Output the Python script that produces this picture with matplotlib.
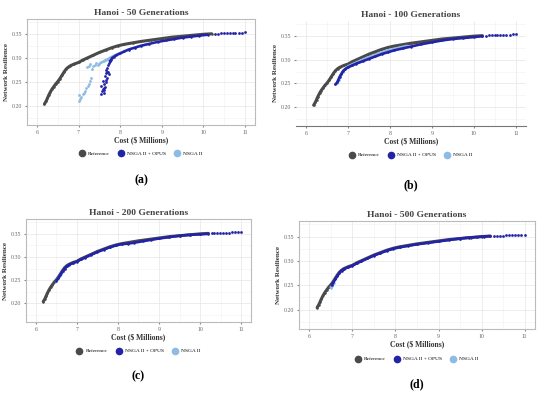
import numpy as np
import matplotlib
matplotlib.use('Agg')
import matplotlib.pyplot as plt
from matplotlib.lines import Line2D

plt.rcParams['font.family'] = ['Liberation Serif', 'DejaVu Serif']

titles = ['Hanoi - 50 Generations', 'Hanoi - 100 Generations',
          'Hanoi - 200 Generations', 'Hanoi - 500 Generations']
panel_tags = ['(a)', '(b)', '(c)', '(d)']
series_names = ['Reference', 'NSGA II + OPUS', 'NSGA II']
xticks = [6, 7, 8, 9, 10, 11]
yticks = [0.20, 0.25, 0.30, 0.35]

# reference front (same in every panel)
ref_cost = [6.18, 6.22, 6.25, 6.28, 6.32, 6.36, 6.40, 6.45, 6.50, 6.55, 6.60, 6.65, 6.70, 6.75,
            6.80, 6.90, 7.00, 7.10, 7.20, 7.35, 7.50, 7.65, 7.80, 7.95, 8.10, 8.30, 8.50,
            8.75, 9.00, 9.25, 9.50, 9.75, 10.00, 10.20]
ref_res = [0.204, 0.210, 0.216, 0.222, 0.229, 0.235, 0.240, 0.246, 0.251, 0.257, 0.264, 0.271,
           0.277, 0.281, 0.284, 0.288, 0.291, 0.296, 0.300, 0.306, 0.312, 0.317, 0.322, 0.326,
           0.329, 0.332, 0.335, 0.338, 0.341, 0.344, 0.346, 0.348, 0.350, 0.351]

# tail of the fronts (sparse points beyond ~10.2)
tail_cost = [10.28, 10.35, 10.42, 10.49, 10.56, 10.63, 10.70, 10.77, 10.85, 10.92, 11.00]
tail_res = [0.3510, 0.3515, 0.3518, 0.3520, 0.3522, 0.3525, 0.3527, 0.3530, 0.3532, 0.3535, 0.3540]

# 50 generations
opus50_cost = [7.55, 7.57, 7.58, 7.60, 7.62, 7.55, 7.60, 7.63, 7.65, 7.66, 7.68, 7.64, 7.67, 7.70,
               7.72, 7.66, 7.69, 7.71, 7.74, 7.58, 7.62, 7.68, 7.75, 7.78, 7.80, 7.85, 7.90, 8.00,
               8.10, 8.20, 8.35, 8.50, 8.70, 8.90, 9.10, 9.30, 9.50, 9.70, 9.90, 10.10]
opus50_res = [0.225, 0.231, 0.236, 0.228, 0.233, 0.242, 0.246, 0.240, 0.250, 0.255, 0.258, 0.262,
              0.268, 0.270, 0.266, 0.275, 0.280, 0.285, 0.290, 0.252, 0.238, 0.272, 0.294, 0.296,
              0.300, 0.303, 0.306, 0.310, 0.314, 0.318, 0.322, 0.326, 0.330, 0.334, 0.337, 0.340,
              0.343, 0.345, 0.347, 0.349]
nsga50_cost = [7.00, 7.03, 7.06, 7.02, 7.10, 7.12, 7.15, 7.18, 7.22, 7.25, 7.28, 7.30, 7.24, 7.27,
               7.20, 7.33, 7.35, 7.40, 7.43, 7.46, 7.50, 7.55, 7.60, 7.65, 7.70, 7.78, 7.85, 7.95,
               8.05, 8.20, 8.35, 8.50, 8.70]
nsga50_res = [0.211, 0.215, 0.219, 0.222, 0.224, 0.228, 0.232, 0.237, 0.241, 0.245, 0.252, 0.258,
              0.283, 0.287, 0.281, 0.278, 0.284, 0.286, 0.289, 0.285, 0.288, 0.291, 0.293, 0.296,
              0.298, 0.302, 0.305, 0.309, 0.313, 0.318, 0.322, 0.326, 0.330]

# 100 generations
opus100_cost = [6.70, 6.74, 6.77, 6.80, 6.84, 6.88, 6.93, 7.00, 7.10, 7.20, 7.35, 7.50, 7.65,
                7.80, 7.95, 8.10, 8.30, 8.50, 8.75, 9.00, 9.25, 9.50, 9.75, 10.00, 10.20]
opus100_res = [0.248, 0.252, 0.258, 0.264, 0.270, 0.276, 0.280, 0.284, 0.288, 0.292, 0.297, 0.302,
               0.307, 0.312, 0.316, 0.320, 0.324, 0.328, 0.333, 0.337, 0.341, 0.344, 0.346, 0.348,
               0.350]
nsga100_cost = [6.74, 6.78, 6.82, 6.87, 6.92, 7.00, 7.10, 7.25, 7.40, 7.55, 7.70, 7.85, 8.00,
                8.20, 8.40]
nsga100_res = [0.250, 0.257, 0.266, 0.274, 0.280, 0.286, 0.290, 0.296, 0.302, 0.307, 0.312,
               0.317, 0.321, 0.325, 0.329]

# 200 generations
opus200_cost = [6.50, 6.55, 6.60, 6.65, 6.70, 6.75, 6.80, 6.90, 7.00, 7.10, 7.20, 7.35, 7.50,
                7.65, 7.80, 7.95, 8.10, 8.25, 8.40, 8.60, 8.80, 9.00, 9.25, 9.50, 9.75, 10.00,
                10.20]
opus200_res = [0.249, 0.255, 0.262, 0.269, 0.275, 0.280, 0.283, 0.287, 0.290, 0.295, 0.299, 0.305,
               0.311, 0.316, 0.321, 0.325, 0.328, 0.329, 0.331, 0.334, 0.337, 0.340, 0.343, 0.346,
               0.348, 0.349, 0.350]
nsga200_cost = [6.50, 6.55, 6.62, 6.70]
nsga200_res = [0.248, 0.254, 0.263, 0.274]

# 500 generations
opus500_cost = [6.52, 6.56, 6.60, 6.65, 6.70, 6.75, 6.80, 6.90, 7.00, 7.10, 7.20, 7.35, 7.50,
                7.65, 7.80, 7.95, 8.10, 8.30, 8.50, 8.75, 9.00, 9.25, 9.50, 9.70, 9.90, 10.05,
                10.20]
opus500_res = [0.250, 0.256, 0.262, 0.269, 0.275, 0.280, 0.283, 0.287, 0.290, 0.295, 0.299, 0.305,
               0.311, 0.316, 0.321, 0.325, 0.328, 0.331, 0.334, 0.337, 0.340, 0.343, 0.346, 0.348,
               0.349, 0.350, 0.351]
nsga500_cost = [6.50, 6.53, 6.57]
nsga500_res = [0.245, 0.249, 0.254]

opus_sets = [(opus50_cost, opus50_res), (opus100_cost, opus100_res),
             (opus200_cost, opus200_res), (opus500_cost, opus500_res)]
nsga_sets = [(nsga50_cost, nsga50_res), (nsga100_cost, nsga100_res),
             (nsga200_cost, nsga200_res), (nsga500_cost, nsga500_res)]

colors = ['#4a4a4a', '#2323a8', '#8dbbe3']

# axes boxes in pixels: left, right, top, bottom
boxes = [(27, 255, 19, 125), (296, 526, 21, 126), (26, 251, 219, 322), (299, 535, 221, 329)]
legend_y = [154, 155, 351, 359]
tag_y = [180, 185, 376, 384]

W, H = 550, 396
fig = plt.figure(figsize=(5.5, 3.96), dpi=100)


def draw(ax, x, y, c, lw):
    ax.plot(x, y, '-', color=c, lw=lw, solid_capstyle='round', zorder=3)
    ax.plot(x, y, 'o', color=c, ms=1.8, mew=0, zorder=3)


for i in range(4):
    l, r, t, b = boxes[i]
    ax = fig.add_axes([l / W, 1 - b / H, (r - l) / W, (b - t) / H])
    ax.set_xlim(5.76, 11.24)
    ax.set_ylim(0.16, 0.382)
    ax.set_xticks(xticks)
    ax.set_yticks(yticks)
    ax.set_yticklabels(['%.2f' % v for v in yticks])
    ax.set_xticks(np.arange(6.5, 11, 1), minor=True)
    ax.set_yticks([0.175, 0.225, 0.275, 0.325, 0.375], minor=True)
    ax.grid(True, which='major', color='#e6e6e6', lw=0.5, zorder=0)
    ax.grid(True, which='minor', color='#f2f2f2', lw=0.4, zorder=0)
    ax.tick_params(which='both', length=0, labelsize=4.2, labelcolor='#666666', pad=2)
    ax.tick_params(which='major', length=1.5, color='#888888')
    for s in ax.spines.values():
        s.set_color('#bbbbbb'); s.set_linewidth(0.8)
    if i == 1:
        for s in ['top', 'right', 'left']:
            ax.spines[s].set_visible(False)
        ax.spines['bottom'].set_color('#777777')

    draw(ax, ref_cost, ref_res, colors[0], 2.2)
    nx, ny = nsga_sets[i]
    ox, oy = opus_sets[i]
    if i == 0:
        ax.plot(nx[:20], ny[:20], 'o', color=colors[2], ms=2.0, mew=0, zorder=3)
        draw(ax, nx[20:], ny[20:], colors[2], 1.8)
        ax.plot(ox[:23], oy[:23], 'o', color=colors[1], ms=2.0, mew=0, zorder=4)
        draw(ax, ox[22:], oy[22:], colors[1], 1.8)
    else:
        draw(ax, nx, ny, colors[2], 2.0)
        draw(ax, ox, oy, colors[1], 1.9)
    ax.plot(tail_cost, tail_res, 'o', color=colors[1], ms=2.0, mew=0, zorder=4)

    ax.set_title(titles[i], fontsize=6.8, fontweight='bold', color='#444444', pad=3)
    ax.set_xlabel('Cost ($ Millions)', fontsize=5.5, fontweight='bold', color='#333333', labelpad=1)
    ax.set_ylabel('Network Resilience', fontsize=5, fontweight='bold', color='#333333', labelpad=2)

    handles = [Line2D([], [], ls='', marker='o', ms=4.5, color=c) for c in colors]
    fig.legend(handles, series_names, loc='center', ncol=3,
               bbox_to_anchor=((l + r) / 2 / W, 1 - legend_y[i] / H),
               frameon=False, fontsize=3.9, handletextpad=0.6, columnspacing=1.6,
               handlelength=1.0)
    fig.text((l + r) / 2 / W, 1 - tag_y[i] / H, panel_tags[i], ha='center', va='center',
             fontsize=8.5, fontweight='bold', color='black')

fig.savefig('out.png', dpi=100)
